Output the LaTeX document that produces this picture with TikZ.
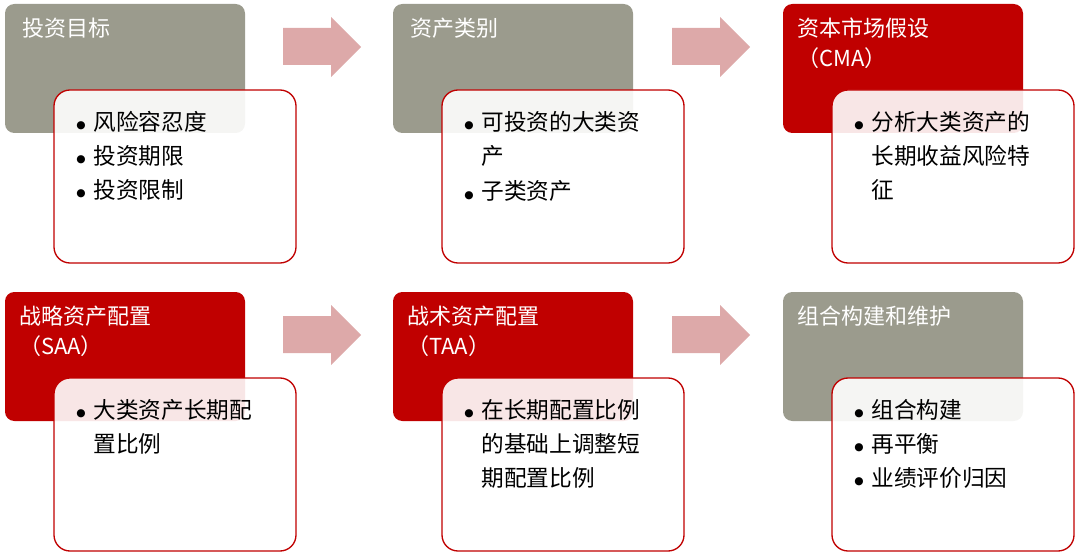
\documentclass[tikz,border=0pt]{standalone}
\usepackage{fontspec}
\setmainfont{Noto Sans CJK SC}
\newfontfamily\symf{DejaVu Sans}
\definecolor{hdgray}{HTML}{9B9B8D}
\definecolor{hdred}{HTML}{C00000}
\definecolor{arrpink}{HTML}{DDA9A9}
\newcommand{\itm}[1]{\begin{tabular}[t]{@{}p{10pt}@{\hspace{3pt}}l@{}}\raisebox{1pt}{\symf\fontsize{8}{8}\selectfont ●}&\begin{tabular}[t]{@{}l@{}}#1\end{tabular}\end{tabular}\\}
\begin{document}
\begin{tikzpicture}[x=0.75pt,y=-0.75pt,
  bd/.style={rounded corners=12pt,draw=hdred,line width=1pt,fill=white,fill opacity=0.9},
  hdtxt/.style={anchor=north west,align=left,font=\fontsize{16.5}{22}\selectfont,text=white,inner sep=0pt},
  bdtxt/.style={anchor=north west,align=left,font=\fontsize{17}{25.5}\selectfont,inner sep=0pt,
    execute at begin node={\renewcommand{\arraystretch}{1}}},
  arr/.style={fill=arrpink,draw=none}]
\useasboundingbox (0,0) rectangle (1080,556);
\foreach \cx/\cy/\col [count=\i] in {0/0/hdgray,388/0/hdgray,778/0/hdred,0/288/hdred,388/288/hdred,778/288/hdgray}{
  \fill[\col,rounded corners=7pt] (\cx+5,\cy+4) rectangle (\cx+245,\cy+133);
  \path[bd] (\cx+54,\cy+90) rectangle (\cx+296,\cy+263);
}
\foreach \ax/\ay in {283/0,672/0,283/288,672/288}{
  \fill[arr] (\ax,\ay+28) -- (\ax+48,\ay+28) -- (\ax+48,\ay+17) -- (\ax+78,\ay+47) -- (\ax+48,\ay+77) -- (\ax+48,\ay+65) -- (\ax,\ay+65) -- cycle;
}
\node[hdtxt] (h1) at (22,18) {投资目标};
\node[hdtxt] (h2) at (410,18) {资产类别};
\node[hdtxt] (h3) at (797,18) {资本市场假设\\（CMA）};
\node[hdtxt] (h4) at (19,306) {战略资产配置\\（SAA）};
\node[hdtxt] (h5) at (407,306) {战术资产配置\\（TAA）};
\node[hdtxt] (h6) at (797,306) {组合构建和维护};
\node[bdtxt] (b1) at (76,106) {\itm{风险容忍度}\itm{投资期限}\itm{投资限制}};
\node[bdtxt] (b2) at (464,106) {\itm{可投资的大类资\\产}\itm{子类资产}};
\node[bdtxt] (b3) at (854,106) {\itm{分析大类资产的\\长期收益风险特\\征}};
\node[bdtxt] (b4) at (76,394) {\itm{大类资产长期配\\置比例}};
\node[bdtxt] (b5) at (464,394) {\itm{在长期配置比例\\的基础上调整短\\期配置比例}};
\node[bdtxt] (b6) at (854,394) {\itm{组合构建}\itm{再平衡}\itm{业绩评价归因}};
\end{tikzpicture}
\end{document}
